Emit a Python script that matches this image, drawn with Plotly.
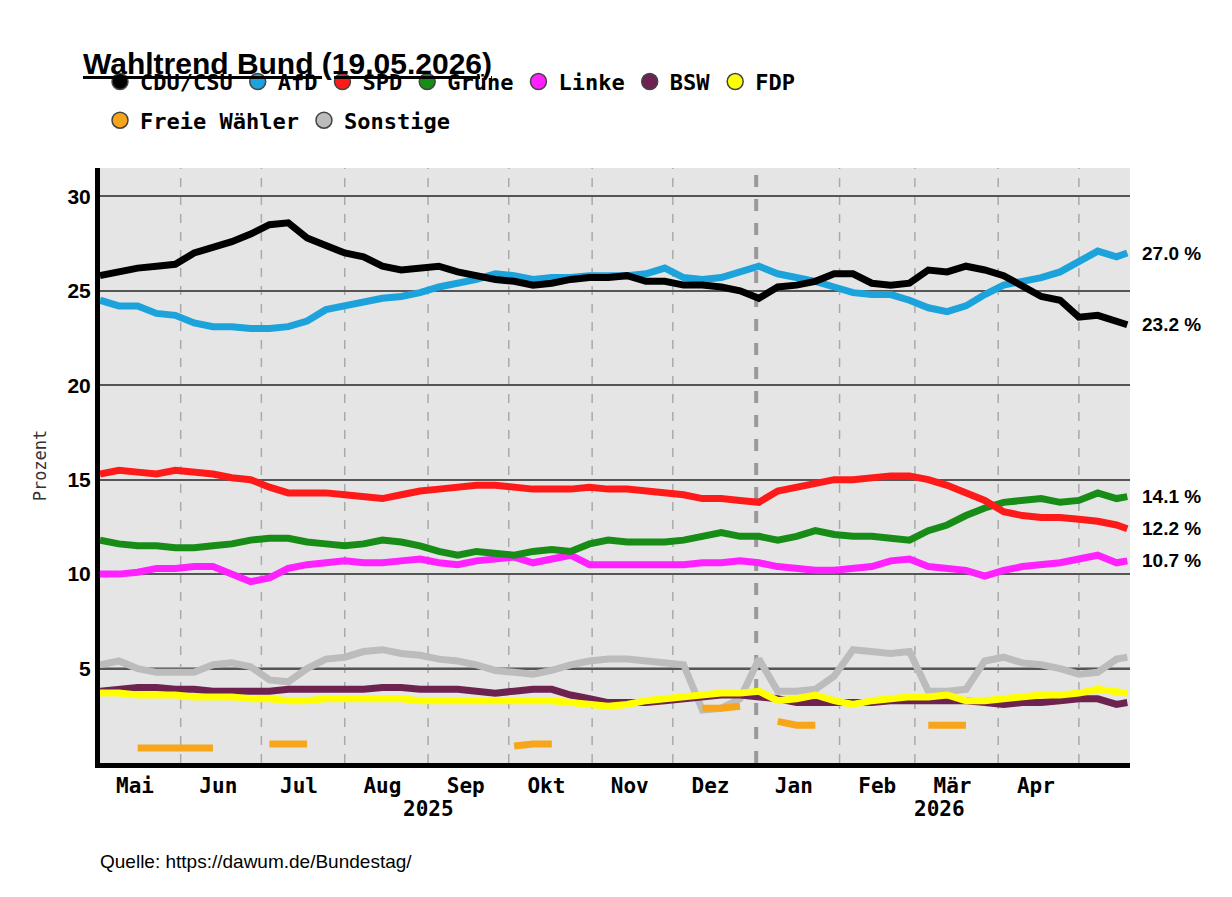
import plotly.graph_objects as go
import pandas as pd

# weekly dates from 02.05.2025, last point 19.05.2026
dates = list(pd.date_range("2025-05-02", periods=55, freq="7D")) + [pd.Timestamp("2026-05-19")]

cdu = [25.8,26.0,26.2,26.3,26.4,27.0,27.3,27.6,28.0,28.5,28.6,27.8,27.4,27.0,26.8,26.3,26.1,26.2,26.3,26.0,
       25.8,25.6,25.5,25.3,25.4,25.6,25.7,25.7,25.8,25.5,25.5,25.3,25.3,25.2,25.0,24.6,25.2,25.3,25.5,25.9,
       25.9,25.4,25.3,25.4,26.1,26.0,26.3,26.1,25.8,25.2,24.7,24.5,23.6,23.7,23.4,23.2]
afd = [24.5,24.2,24.2,23.8,23.7,23.3,23.1,23.1,23.0,23.0,23.1,23.4,24.0,24.2,24.4,24.6,24.7,24.9,25.2,25.4,
       25.6,25.9,25.8,25.6,25.7,25.7,25.8,25.8,25.8,25.9,26.2,25.7,25.6,25.7,26.0,26.3,25.9,25.7,25.5,25.2,
       24.9,24.8,24.8,24.5,24.1,23.9,24.2,24.8,25.3,25.5,25.7,26.0,26.6,27.1,26.8,27.0]
spd = [15.3,15.5,15.4,15.3,15.5,15.4,15.3,15.1,15.0,14.6,14.3,14.3,14.3,14.2,14.1,14.0,14.2,14.4,14.5,14.6,
       14.7,14.7,14.6,14.5,14.5,14.5,14.6,14.5,14.5,14.4,14.3,14.2,14.0,14.0,13.9,13.8,14.4,14.6,14.8,15.0,
       15.0,15.1,15.2,15.2,15.0,14.7,14.3,13.9,13.3,13.1,13.0,13.0,12.9,12.8,12.6,12.4]
gruene = [11.8,11.6,11.5,11.5,11.4,11.4,11.5,11.6,11.8,11.9,11.9,11.7,11.6,11.5,11.6,11.8,11.7,11.5,11.2,11.0,
          11.2,11.1,11.0,11.2,11.3,11.2,11.6,11.8,11.7,11.7,11.7,11.8,12.0,12.2,12.0,12.0,11.8,12.0,12.3,12.1,
          12.0,12.0,11.9,11.8,12.3,12.6,13.1,13.5,13.8,13.9,14.0,13.8,13.9,14.3,14.0,14.1]
linke = [10.0,10.0,10.1,10.3,10.3,10.4,10.4,10.0,9.6,9.8,10.3,10.5,10.6,10.7,10.6,10.6,10.7,10.8,10.6,10.5,
         10.7,10.8,10.9,10.6,10.8,11.0,10.5,10.5,10.5,10.5,10.5,10.5,10.6,10.6,10.7,10.6,10.4,10.3,10.2,10.2,
         10.3,10.4,10.7,10.8,10.4,10.3,10.2,9.9,10.2,10.4,10.5,10.6,10.8,11.0,10.6,10.7]
bsw = [3.8,3.9,4.0,4.0,3.9,3.9,3.8,3.8,3.8,3.8,3.9,3.9,3.9,3.9,3.9,4.0,4.0,3.9,3.9,3.9,
       3.8,3.7,3.8,3.9,3.9,3.6,3.4,3.2,3.2,3.2,3.3,3.4,3.5,3.6,3.6,3.5,3.4,3.2,3.2,3.2,
       3.2,3.2,3.3,3.3,3.3,3.3,3.3,3.2,3.1,3.2,3.2,3.3,3.4,3.4,3.1,3.2]
fdp = [3.7,3.7,3.6,3.6,3.6,3.5,3.5,3.5,3.4,3.4,3.3,3.3,3.4,3.4,3.4,3.4,3.4,3.3,3.3,3.3,
       3.3,3.3,3.3,3.3,3.3,3.2,3.1,3.0,3.1,3.3,3.4,3.5,3.6,3.7,3.7,3.8,3.3,3.4,3.6,3.3,
       3.1,3.3,3.4,3.5,3.5,3.6,3.3,3.3,3.4,3.5,3.6,3.6,3.7,3.9,3.8,3.7]
N = None
fw = [N,N,0.8,0.8,0.8,0.8,0.8,N,N,1.0,1.0,1.0,N,N,N,N,N,N,N,N,
      N,N,0.9,1.0,1.0,N,N,N,N,N,N,N,2.9,2.9,3.0,N,2.2,2.0,2.0,N,
      N,N,N,N,2.0,2.0,2.0,N,N,N,N,N,N,N,N,N]
sonst = [5.2,5.4,5.0,4.8,4.8,4.8,5.2,5.3,5.1,4.4,4.3,5.0,5.5,5.6,5.9,6.0,5.8,5.7,5.5,5.4,
         5.2,4.9,4.8,4.7,4.9,5.2,5.4,5.5,5.5,5.4,5.3,5.2,2.8,2.9,3.4,5.5,3.8,3.8,3.9,4.6,
         6.0,5.9,5.8,5.9,3.8,3.8,3.9,5.4,5.6,5.3,5.2,5.0,4.7,4.8,5.5,5.6]

parties = ["CDU/CSU", "AfD", "SPD", "Grüne", "Linke", "BSW", "FDP", "Freie Wähler", "Sonstige"]
colors = ["#000000", "#1ca3dc", "#ff1a1a", "#178c17", "#ff21ff", "#6e2250", "#ffff00", "#f7a51b", "#bcbcbc"]
series = [cdu, afd, spd, gruene, linke, bsw, fdp, fw, sonst]
draw_order = [8, 7, 5, 6, 4, 3, 2, 1, 0]

month_labels = ["Mai", "Jun", "Jul", "Aug", "Sep", "Okt", "Nov", "Dez", "Jan", "Feb", "Mär", "Apr"]
month_mid = pd.date_range("2025-05-01", periods=12, freq="MS") + pd.Timedelta(days=14)
month_starts = pd.date_range("2025-06-01", periods=12, freq="MS")

mono = "DejaVu Sans Mono"
fig = go.Figure()

for i in draw_order:
    fig.add_trace(go.Scatter(x=dates, y=series[i], mode="lines", showlegend=False,
                             line=dict(color=colors[i], width=7), connectgaps=False, hoverinfo="skip"))
# legend entries: first row in legend, second row in legend2
for k, (name, c) in enumerate(zip(parties, colors)):
    fig.add_trace(go.Scatter(x=[None], y=[None], mode="markers", name=name,
                             legend="legend" if k < 7 else "legend2",
                             marker=dict(color=c, size=17, line=dict(color="#444", width=1.5))))

fig.add_hline(y=5, line=dict(color="#ff0000", width=2), layer="below")
for d in month_starts:
    thick = d.month == 1
    fig.add_vline(x=d, line=dict(color="#999999" if thick else "#aaaaaa",
                                  width=4 if thick else 1.5, dash="dash"), layer="below")

for name, s in [("27.0 %", afd), ("23.2 %", cdu), ("14.1 %", gruene), ("12.2 %", spd), ("10.7 %", linke)]:
    fig.add_annotation(x=1.01, xref="paper", y=s[-1], yref="y", text="<b>" + name + "</b>",
                       showarrow=False, xanchor="left", font=dict(family="Arial", size=19, color="black"))

fig.add_annotation(x=pd.Timestamp("2025-09-01"), y=-0.10, xref="x", yref="paper", text="<b>2025</b>",
                   showarrow=False, font=dict(family=mono, size=21, color="black"))
fig.add_annotation(x=pd.Timestamp("2026-03-10"), y=-0.10, xref="x", yref="paper", text="<b>2026</b>",
                   showarrow=False, font=dict(family=mono, size=21, color="black"))
fig.add_annotation(x=-0.018, y=1.207, xref="paper", yref="paper", xanchor="left",
                   text="<b><u>Wahltrend Bund (19.05.2026)</u></b>", showarrow=False,
                   font=dict(family="Arial", size=30, color="black"))
fig.add_annotation(x=-0.002, y=-0.187, xref="paper", yref="paper", xanchor="left",
                   text="Quelle: https://dawum.de/Bundestag/", showarrow=False,
                   font=dict(family="Arial", size=19, color="black"))

legfont = dict(family=mono, size=22, color="black", weight="bold")
fig.update_layout(
    width=1232, height=897,
    paper_bgcolor="white", plot_bgcolor="#e5e5e5",
    margin=dict(l=92, r=110, t=160, b=142),
    legend=dict(orientation="h", x=0.0, y=1.145, yanchor="middle", font=legfont,
                bgcolor="rgba(0,0,0,0)", itemwidth=30),
    legend2=dict(orientation="h", x=0.0, y=1.08, yanchor="middle", font=legfont,
                 bgcolor="rgba(0,0,0,0)", itemwidth=30),
    xaxis=dict(range=[pd.Timestamp("2025-05-02"), pd.Timestamp("2026-05-20")],
               tickvals=list(month_mid), ticktext=["<b>" + m + "</b>" for m in month_labels],
               showgrid=False, ticks="", tickfont=dict(family=mono, size=21, color="black"),
               showline=True, linecolor="black", linewidth=5, zeroline=False),
    yaxis=dict(range=[0, 31.5], tickvals=[5, 10, 15, 20, 25, 30],
               ticktext=["<b>%d</b>" % v for v in [5, 10, 15, 20, 25, 30]],
               gridcolor="#555555", gridwidth=2, ticks="", zeroline=False,
               tickfont=dict(family="Arial", size=21, color="black"),
               showline=True, linecolor="black", linewidth=5,
               title=dict(text="Prozent", font=dict(family=mono, size=17, color="#333"), standoff=18)),
)

fig.write_html("out.html")
